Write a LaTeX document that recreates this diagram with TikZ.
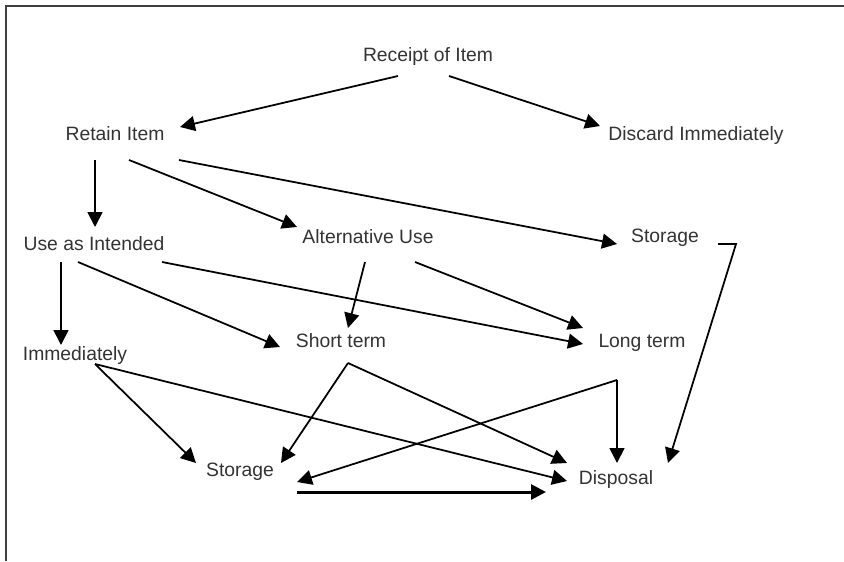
\documentclass[tikz,border=0pt]{standalone}
\usepackage{fontspec}
\setmainfont{Liberation Sans}
\usetikzlibrary{arrows.meta,calc}

\begin{document}
\begin{tikzpicture}[x=0.02cm,y=-0.02cm,
        lbl/.style={inner sep=0pt,text height=8pt,text depth=0pt,text=black!80,font=\fontsize{11}{13}\selectfont},
        arr/.style={line width=1pt,-{Triangle[length=8.5pt,width=8.5pt]}}]
        \useasboundingbox (0,0) rectangle (844,561);
        \path[draw=black!75,line width=1.2pt] (6,561) -- (6,6) -- (844,6);

        \node[lbl] (rcp) at (428,54) {Receipt of Item};
        \node[lbl] (ret) at (115,133) {Retain Item};
        \node[lbl] (dis) at (696,133) {Discard Immediately};
        \node[lbl] (use) at (94,243) {Use as Intended};
        \node[lbl] (alt) at (368,236) {Alternative Use};
        \node[lbl] (st1) at (665,235) {Storage};
        \node[lbl] (imm) at (75,353) {Immediately};
        \node[lbl] (sht) at (341,340) {Short term};
        \node[lbl] (lng) at (642,340) {Long term};
        \node[lbl] (st2) at (240,469) {Storage};
        \node[lbl] (dsp) at (616,477) {Disposal};

        \path[draw,arr] ($(rcp)+(-30,22)$) -- ($(ret)+(65,-6)$);
        \path[draw,arr] ($(rcp)+(21,22)$) -- ($(dis)+(-96,-7)$);
        \path[draw,arr] ($(ret)+(-20,27)$) -- ($(use)+(1,-16)$);
        \path[draw,arr] ($(ret)+(14,27)$) -- ($(alt)+(-71,-9)$);
        \path[draw,arr] ($(ret)+(64,27)$) -- ($(st1)+(-48,9)$);
        \path[draw,arr] ($(use)+(-33,19)$) -- ($(imm)+(-14,-8)$);
        \path[draw,arr] ($(use)+(-16,19)$) -- ($(sht)+(-61,7)$);
        \path[draw,arr] ($(use)+(68,19)$) -- ($(lng)+(-59,4)$);
        \path[draw,arr] ($(alt)+(-3,26)$) -- ($(sht)+(7,-12)$);
        \path[draw,arr] ($(alt)+(47,26)$) -- ($(lng)+(-59,-12)$);
        \path[draw,arr] ($(st1)+(53,9)$) -- ($(st1)+(71,9)$) -- ($(dsp)+(52,-14)$);
        \path[draw,arr] ($(lng)+(-25,40)$) -- ($(dsp)+(1,-14)$);
        \path[draw,arr] ($(lng)+(-25,40)$) -- ($(st2)+(57,13)$);
        \path[draw,arr] ($(sht)+(7,23)$) -- ($(st2)+(41,-6)$);
        \path[draw,arr] ($(sht)+(7,23)$) -- ($(dsp)+(-49,-14)$);
        \path[draw,arr] ($(imm)+(20,11)$) -- ($(st2)+(-44,-6)$);
        \path[draw,arr] ($(imm)+(20,11)$) -- ($(dsp)+(-49,4)$);
        \path[draw,arr,line width=1.7pt] ($(st2)+(57,23)$) -- ($(dsp)+(-70,15)$);
    \end{tikzpicture}
\end{document}
